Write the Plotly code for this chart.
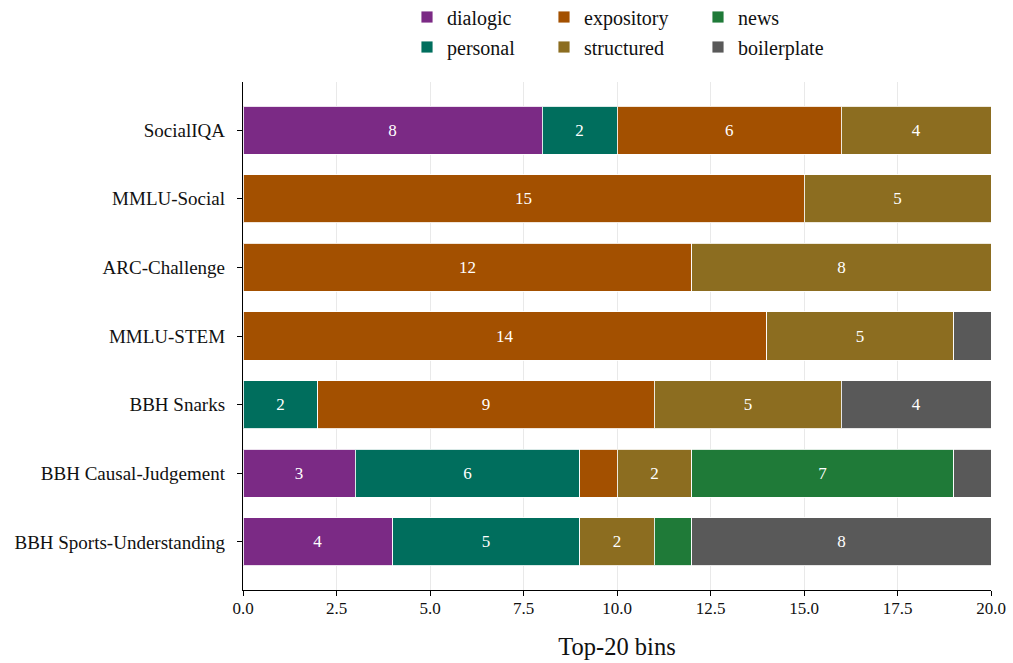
import plotly.graph_objects as go

benchmarks = ["SocialIQA", "MMLU-Social", "ARC-Challenge", "MMLU-STEM",
              "BBH Snarks", "BBH Causal-Judgement", "BBH Sports-Understanding"]
dialogic = [8, 0, 0, 0, 0, 3, 4]
personal = [2, 0, 0, 0, 2, 6, 5]
expository = [6, 15, 12, 14, 9, 1, 0]
structured = [4, 5, 8, 5, 5, 2, 2]
news = [0, 0, 0, 0, 0, 7, 1]
boilerplate = [0, 0, 0, 1, 4, 1, 8]
x_ticks = [0, 2.5, 5, 7.5, 10, 12.5, 15, 17.5, 20]
x_ticktext = ["0.0", "2.5", "5.0", "7.5", "10.0", "12.5", "15.0", "17.5", "20.0"]

series = [
    ("dialogic", dialogic, "#7b2a85"),
    ("personal", personal, "#006e5d"),
    ("expository", expository, "#a35000"),
    ("structured", structured, "#8c6d20"),
    ("news", news, "#1f7a38"),
    ("boilerplate", boilerplate, "#595959"),
]

FONT = "Liberation Serif, DejaVu Serif, serif"

# plot area in pixels
W, H = 1013, 663
L, R, T, B = 243, 22, 82, 73
pw, ph = W - L - R, H - T - B

# legend layout: (legend id, text-left px, row-center px)
leg_pos = {
    "dialogic": ("legend", 447, 17),
    "expository": ("legend2", 584, 17),
    "news": ("legend3", 738, 17),
    "personal": ("legend4", 447, 47),
    "structured": ("legend5", 584, 47),
    "boilerplate": ("legend6", 738, 47),
}

ypos = list(range(len(benchmarks)))
fig = go.Figure()
for name, vals, color in series:
    fig.add_trace(go.Bar(
        name=name,
        orientation="h",
        y=ypos,
        x=[v if v > 0 else None for v in vals],
        width=0.7,
        marker=dict(color=color, line=dict(color="rgba(255,255,255,0.85)", width=1)),
        text=[str(v) if v >= 2 else "" for v in vals],
        textposition="inside",
        insidetextanchor="middle",
        textangle=0,
        constraintext="none",
        textfont=dict(color="white", size=17, family=FONT),
        legend=leg_pos[name][0],
        hoverinfo="skip",
    ))

layout_legends = {}
for name, (lid, tx, ty) in leg_pos.items():
    layout_legends[lid] = dict(
        x=(tx - 40 - L) / pw,
        y=(H - B - ty) / ph,
        xanchor="left",
        yanchor="middle",
        orientation="v",
        bgcolor="rgba(0,0,0,0)",
        borderwidth=0,
        font=dict(family=FONT, size=20, color="#111111"),
        itemclick=False,
        itemdoubleclick=False,
    )

fig.update_layout(
    width=W, height=H,
    margin=dict(l=L, r=R, t=T, b=B, autoexpand=False),
    paper_bgcolor="white",
    plot_bgcolor="white",
    barmode="stack",
    bargap=0.3,
    showlegend=True,
    font=dict(family=FONT, size=17, color="#111111"),
    **layout_legends,
)

fig.update_xaxes(
    range=[0, 20],
    tickvals=x_ticks,
    ticktext=x_ticktext,
    showgrid=True,
    gridcolor="rgba(200,200,200,0.4)",
    gridwidth=1,
    layer="above traces",
    showline=True,
    linecolor="black",
    linewidth=1.3,
    ticks="outside",
    ticklen=5,
    tickwidth=1.2,
    tickcolor="black",
    tickfont=dict(family=FONT, size=17, color="#111111"),
    ticklabelstandoff=-3,
    zeroline=False,
    title=dict(text="Top-20 bins", font=dict(family=FONT, size=24.5, color="#111111"), standoff=21),
)
fig.update_yaxes(
    range=[len(benchmarks) - 0.3, -0.7],
    tickvals=ypos,
    ticktext=benchmarks,
    showgrid=False,
    showline=True,
    linecolor="black",
    linewidth=1.3,
    ticks="outside",
    ticklen=5,
    tickwidth=1.2,
    tickcolor="black",
    tickfont=dict(family=FONT, size=19, color="#111111"),
    ticklabelstandoff=8,
    zeroline=False,
)

fig.write_html(
    "out.html",
    config={"displayModeBar": False},
    post_script="document.body.style.margin='0';document.body.style.overflow='hidden';",
)
